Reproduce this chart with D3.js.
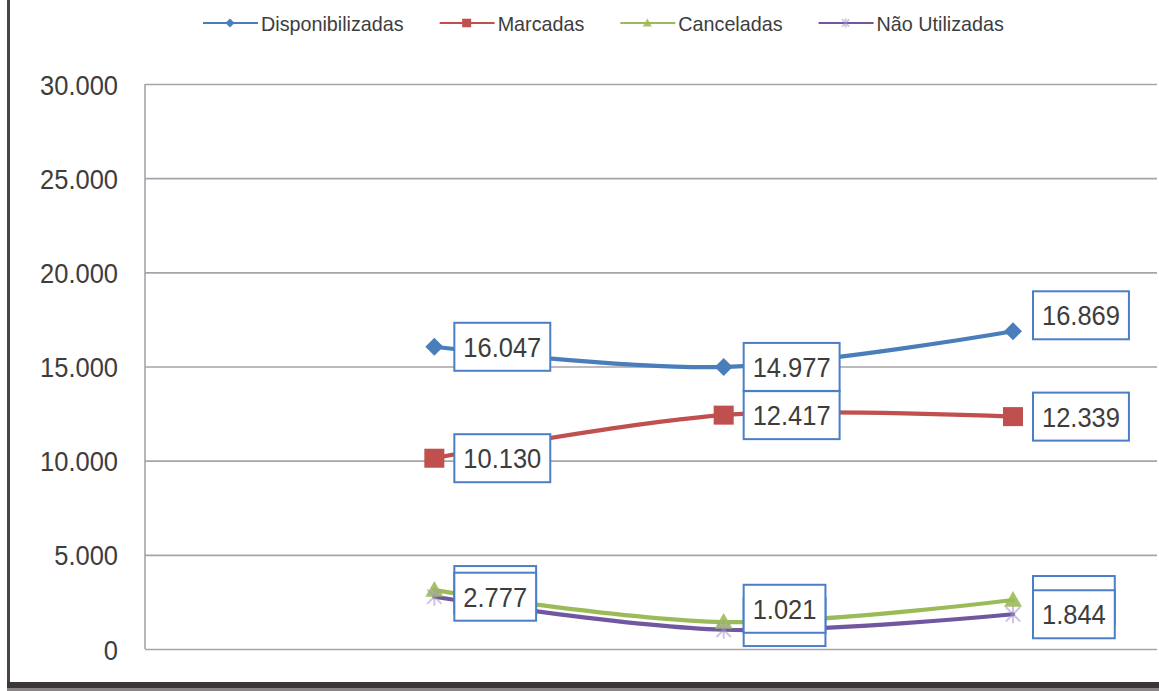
<!DOCTYPE html>
<html>
<head>
<meta charset="utf-8">
<script src="https://cdn.jsdelivr.net/npm/d3@7"></script>
<style>
  html, body { margin: 0; padding: 0; background: #ffffff; }
  svg { display: block; }
  text { font-family: "Liberation Sans", Arial, sans-serif; fill: #3d3d3d; }
</style>
</head>
<body>
<svg id="chart" width="1159" height="691"></svg>
<script>
// ---- data -------------------------------------------------------------
const categories = ["Período 1", "Período 2", "Período 3"];
const seriesNames = ["Disponibilizadas", "Marcadas", "Canceladas", "Não Utilizadas"];
const disponibilizadas = [16047, 14977, 16869];
const marcadas = [10130, 12417, 12339];
const canceladas = [3130, 1430, 2600];
const naoUtilizadas = [2777, 1021, 1844];
const yTicks = [0, 5000, 10000, 15000, 20000, 25000, 30000];

// ---- layout / style ---------------------------------------------------
const W = 1159, H = 691;
const plot = { left: 145, right: 1157, top: 84, bottom: 649 };
const colors = {
  "Disponibilizadas": "#4a7ebb",
  "Marcadas": "#c0504d",
  "Canceladas": "#9bbb59",
  "Não Utilizadas": "#7057a0"
};
const markers = {
  "Disponibilizadas": "diamond",
  "Marcadas": "square",
  "Canceladas": "triangle",
  "Não Utilizadas": "star"
};
// vertical nudge of each data label box (px), per point
const labelShift = {
  "Disponibilizadas": [0, 0, -16],
  "Marcadas": [0, 0, 0],
  "Canceladas": [0, 0, 0],
  "Não Utilizadas": [0, -21, 0]
};
// which series show their value text in the label box
const labelText = { "Disponibilizadas": true, "Marcadas": true, "Canceladas": false, "Não Utilizadas": true };

const series = [
  { name: seriesNames[0], values: disponibilizadas },
  { name: seriesNames[1], values: marcadas },
  { name: seriesNames[2], values: canceladas },
  { name: seriesNames[3], values: naoUtilizadas }
];

const ptBR = d3.formatLocale({ decimal: ",", thousands: ".", grouping: [3], currency: ["R$", ""] });
const fmt = ptBR.format(",.0f");

const svg = d3.select("#chart");

// condense / widen glyphs horizontally by factor k
function stretch(sel, k) {
  sel.each(function () {
    const w = this.getComputedTextLength();
    d3.select(this).attr("textLength", w * k).attr("lengthAdjust", "spacingAndGlyphs");
  });
}

// ---- scales -------------------------------------------------------------
// first slot on the category axis is left empty, series start at the second
const x = d3.scalePoint().domain(["", ...categories]).range([plot.left, 1013]).padding(0);
const y = d3.scaleLinear().domain([0, 30000]).range([plot.bottom, plot.top]);

// ---- outer frame ------------------------------------------------------
svg.append("rect").attr("x", 0).attr("y", 0).attr("width", W).attr("height", H).attr("fill", "#ffffff");
svg.append("rect").attr("x", 7).attr("y", 0).attr("width", 3).attr("height", 686).attr("fill", "#4a4446");
svg.append("rect").attr("x", 7).attr("y", 682).attr("width", W - 7).attr("height", 6).attr("fill", "#3c3638");
svg.append("rect").attr("x", 7).attr("y", 688).attr("width", W - 7).attr("height", 3).attr("fill", "#8a8486");

// ---- gridlines & y axis -----------------------------------------------
const yAxis = d3.axisLeft(y).tickValues(yTicks).tickFormat(fmt).tickSize(-(plot.right - plot.left)).tickPadding(27);
const gy = svg.append("g").attr("transform", `translate(${plot.left},0)`).call(yAxis);
gy.select(".domain").remove();
gy.selectAll(".tick line").attr("stroke", "#a6a3aa").attr("stroke-width", 1.6);
gy.selectAll(".tick text")
  .attr("font-size", 28)
  .attr("fill", "#3d3d3d")
  .attr("dy", "0.36em")
  .style("font-family", "'Liberation Sans',Arial,sans-serif");
stretch(gy.selectAll(".tick text"), 0.91);
// vertical axis line at plot left
svg.append("line")
  .attr("x1", plot.left).attr("x2", plot.left)
  .attr("y1", y(30000)).attr("y2", y(0))
  .attr("stroke", "#a6a3aa").attr("stroke-width", 1.6);

// ---- lines ----------------------------------------------------------------
const line = d3.line()
  .x((d, i) => x(categories[i]))
  .y(d => y(d))
  .curve(d3.curveCatmullRom.alpha(0.5));

const gLines = svg.append("g");
series.forEach(s => {
  gLines.append("path")
    .datum(s.values)
    .attr("d", line)
    .attr("fill", "none")
    .attr("stroke", colors[s.name])
    .attr("stroke-width", 4.2)
    .attr("stroke-linecap", "round");
});

// ---- markers --------------------------------------------------------------
function drawMarker(g, type, cx, cy, r, color) {
  if (type === "diamond") {
    g.append("path")
      .attr("d", `M${cx},${cy - r}L${cx + r},${cy}L${cx},${cy + r}L${cx - r},${cy}Z`)
      .attr("fill", color);
  } else if (type === "square") {
    g.append("rect")
      .attr("x", cx - r).attr("y", cy - r * 0.95)
      .attr("width", 2 * r).attr("height", 1.9 * r)
      .attr("fill", color);
  } else if (type === "triangle") {
    g.append("path")
      .attr("d", `M${cx},${cy - r}L${cx + r},${cy + r * 0.75}L${cx - r},${cy + r * 0.75}Z`)
      .attr("fill", color).attr("opacity", 0.9);
  } else if (type === "star") {
    const a = r * 0.8;
    g.append("path")
      .attr("d", `M${cx - a},${cy - a}L${cx + a},${cy + a}M${cx - a},${cy + a}L${cx + a},${cy - a}M${cx},${cy - r}L${cx},${cy + r}`)
      .attr("stroke", color).attr("stroke-width", 2).attr("fill", "none").attr("opacity", 0.55);
  }
}

const gMarks = svg.append("g");
series.forEach(s => {
  s.values.forEach((v, i) => {
    const r = markers[s.name] === "square" ? 10 : 9;
    const col = markers[s.name] === "star" ? "#a495cf" : colors[s.name];
    drawMarker(gMarks, markers[s.name], x(categories[i]), y(v), r, col);
  });
});

// ---- data labels ----------------------------------------------------------
const gLabels = svg.append("g");
const labelOrder = ["Canceladas", "Disponibilizadas", "Marcadas", "Não Utilizadas"];
labelOrder.forEach(name => {
  const s = series.find(d => d.name === name);
  s.values.forEach((v, i) => {
    const px = x(categories[i]), py = y(v);
    const cy = py + labelShift[name][i];
    const g = gLabels.append("g");
    const box = g.append("rect");
    const t = g.append("text")
      .attr("x", px + 20 + 9)
      .attr("y", cy)
      .attr("dy", "0.36em")
      .attr("font-size", 28)
      .text(fmt(v));
    stretch(t, 0.91);
    const tw = +t.attr("textLength");
    box.attr("x", px + 20).attr("y", cy - 24)
      .attr("width", tw + 18).attr("height", 48)
      .attr("fill", "#ffffff")
      .attr("stroke", "#4a7ec6").attr("stroke-width", 2);
    if (!labelText[name]) t.remove();
  });
});

// ---- legend ---------------------------------------------------------------
const gLegend = svg.append("g");
let lx = 203;
const ly = 23;
series.forEach(s => {
  const item = gLegend.append("g");
  item.append("line")
    .attr("x1", lx).attr("x2", lx + 55)
    .attr("y1", ly).attr("y2", ly)
    .attr("stroke", colors[s.name]).attr("stroke-width", 2.2);
  const mcol = markers[s.name] === "star" ? "#a495cf" : colors[s.name];
  drawMarker(item, markers[s.name], lx + 27, ly, 4.5, mcol);
  const t = item.append("text")
    .attr("x", lx + 58).attr("y", ly)
    .attr("dy", "0.36em")
    .attr("font-size", 21)
    .text(s.name);
  stretch(t, 0.94);
  lx = lx + 58 + (+t.attr("textLength")) + 36;
});
</script>
</body>
</html>
